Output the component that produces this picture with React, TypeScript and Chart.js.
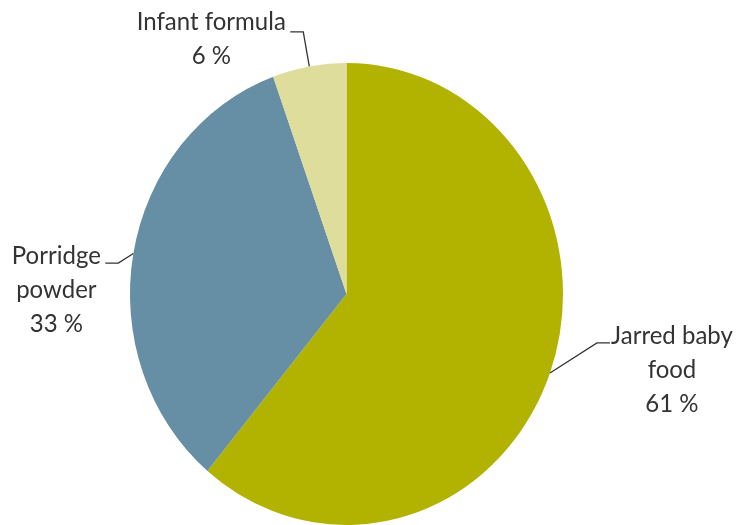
import React, { useEffect, useRef } from "react";
import { Chart, registerables } from "chart.js";

Chart.register(...registerables);

const categories = ["Jarred baby food", "Porridge powder", "Infant formula"];
const shares = [61.1, 33.4, 5.5];
const labelLines = [["Jarred baby", "food"], ["Porridge", "powder"], ["Infant formula"]];
const colors = ["#b2b200", "#668fa6", "#dfdd9c"];

// leader-line and label placement relative to the slice's outer mid-point
const labelPlacement = [
  { elbow: [47, -30], run: 13, text: [122, -37] },
  { elbow: [-15, 9.5], run: -13, text: [-77, 2.5] },
  { elbow: [-6, -34.5], run: -13, text: [-98, -44.5] },
];

const Y_STRETCH = 231 / 216.5;

const stretchPlugin = {
  id: "stretch",
  beforeDatasetsDraw(chart: any) {
    const meta = chart.getDatasetMeta(0);
    const arc = meta.data[0];
    if (!arc) return;
    const { x, y } = arc.getProps(["x", "y"], true);
    const ctx = chart.ctx;
    ctx.save();
    ctx.translate(x, y);
    ctx.scale(1, Y_STRETCH);
    ctx.translate(-x, -y);
  },
  afterDatasetsDraw(chart: any) {
    chart.ctx.restore();
  },
};

const labelPlugin = {
  id: "pieLabels",
  afterDraw(chart: any) {
    const ctx = chart.ctx;
    const meta = chart.getDatasetMeta(0);
    const values = chart.data.datasets[0].data as number[];
    meta.data.forEach((arc: any, i: number) => {
      const { x, y, startAngle, endAngle, outerRadius } = arc.getProps(
        ["x", "y", "startAngle", "endAngle", "outerRadius"],
        true
      );
      const mid = (startAngle + endAngle) / 2;
      const ax = x + Math.cos(mid) * outerRadius;
      const ay = y + Math.sin(mid) * outerRadius * Y_STRETCH;
      const p = labelPlacement[i];
      const ex = ax + p.elbow[0];
      const ey = ay + p.elbow[1];
      ctx.save();
      ctx.strokeStyle = "#333333";
      ctx.lineWidth = 1.3;
      ctx.beginPath();
      ctx.moveTo(ax, ay);
      ctx.lineTo(ex, ey);
      ctx.lineTo(ex + p.run, ey);
      ctx.stroke();
      const lines = [...labelLines[i], `${Math.round(values[i])} %`];
      ctx.fillStyle = "#333333";
      ctx.font = "24px Lato, 'Open Sans', sans-serif";
      ctx.textAlign = "center";
      ctx.textBaseline = "middle";
      lines.forEach((t, k) => {
        const tx = ax + p.text[0];
        const ty = ay + p.text[1] + k * 34;
        ctx.save();
        ctx.translate(tx, ty);
        ctx.scale(1, Y_STRETCH);
        ctx.fillText(t, 0, 0);
        ctx.restore();
      });
      ctx.restore();
    });
  },
};

export default function App() {
  const ref = useRef<HTMLCanvasElement>(null);
  useEffect(() => {
    document.body.style.margin = "0";
    const chart = new Chart(ref.current!, {
      type: "pie",
      data: {
        labels: categories,
        datasets: [
          {
            data: shares,
            backgroundColor: colors,
            borderWidth: 0,
          },
        ],
      },
      options: {
        animation: false,
        responsive: false,
        layout: { padding: { left: 130, right: 174, top: 77.5, bottom: 14.5 } },
        plugins: {
          legend: { display: false },
          tooltip: { enabled: false },
        },
      },
      plugins: [stretchPlugin, labelPlugin],
    });
    return () => chart.destroy();
  }, []);
  return (
    <div style={{ position: "absolute", left: 0, top: 0, width: 737, height: 525, background: "#fff" }}>
      <canvas ref={ref} width={737} height={525} style={{ width: 737, height: 525 }} />
    </div>
  );
}
